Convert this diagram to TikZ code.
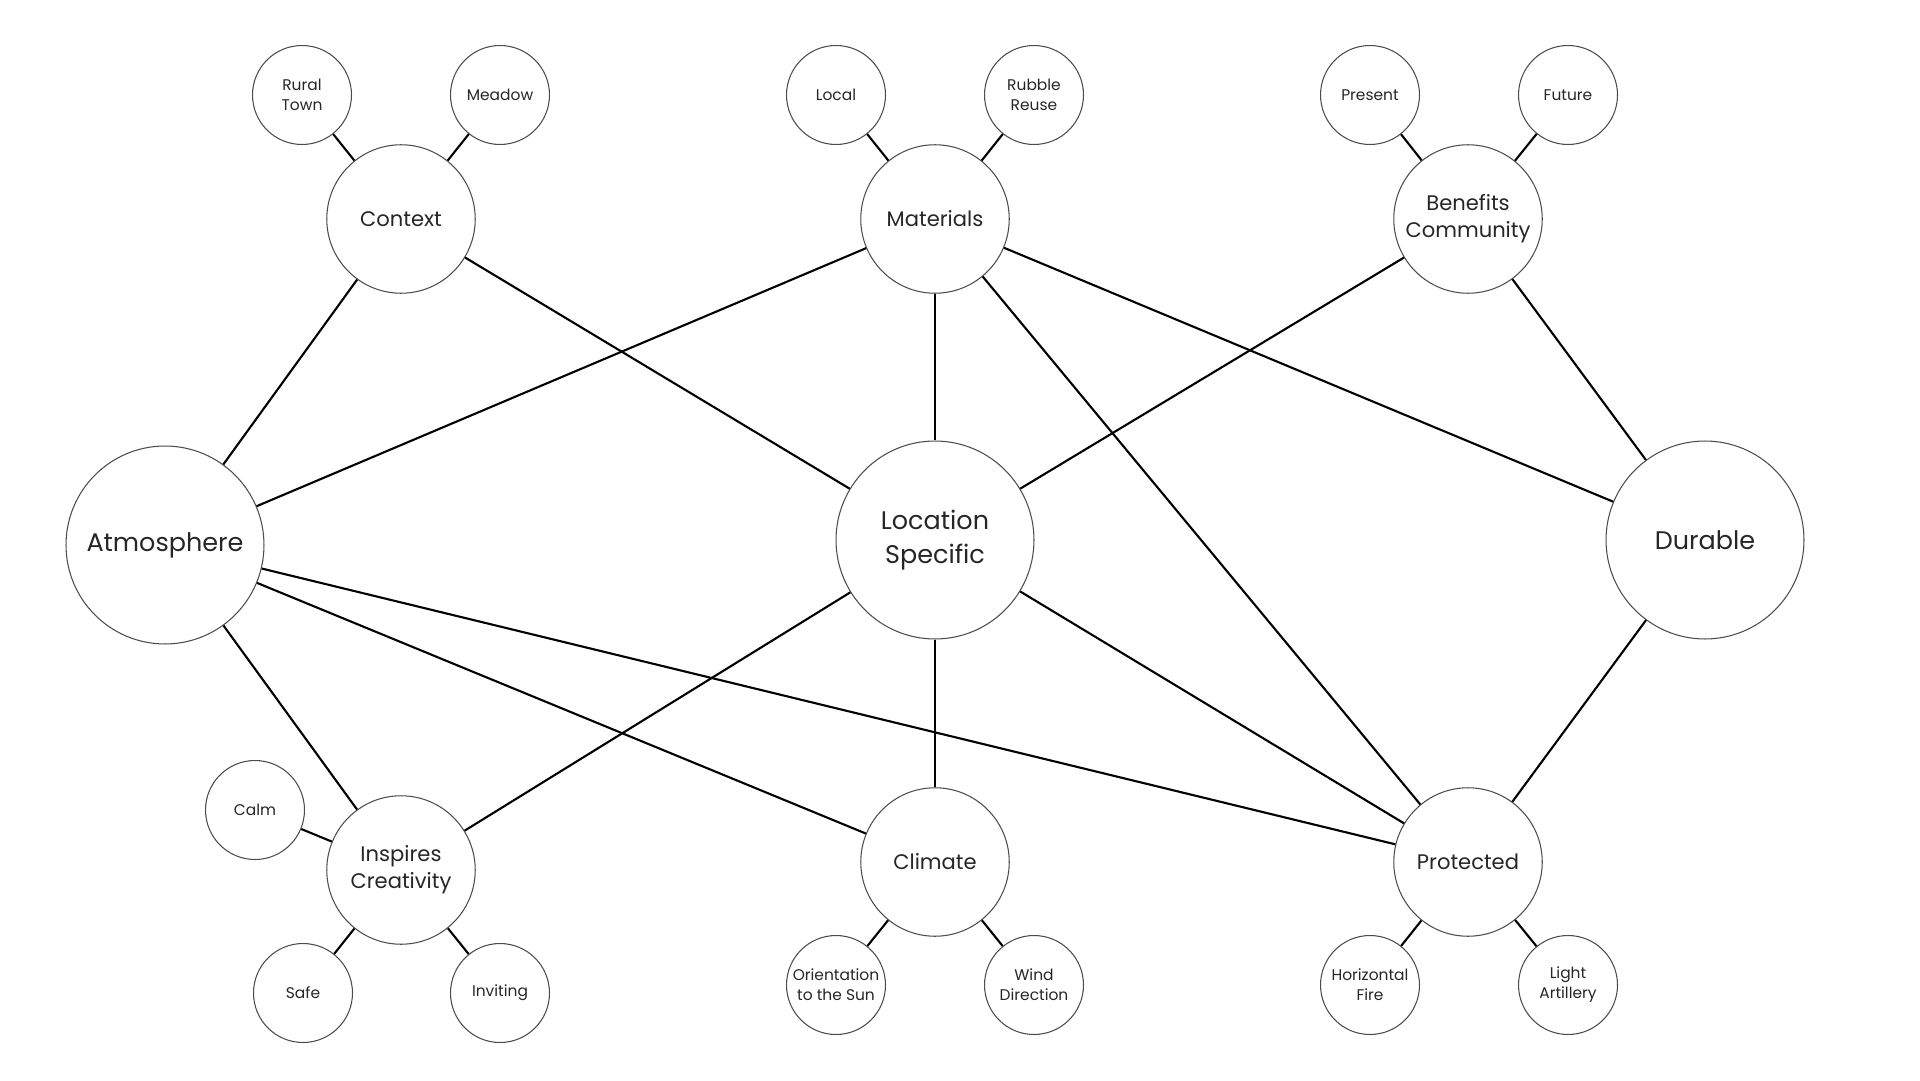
\documentclass[tikz,border=0pt]{standalone}
\usepackage{fontspec}
\setmainfont{Poppins}
\tikzset{
  bigc/.style={circle, draw=black!70, line width=0.6pt, minimum size=3.96cm, inner sep=0pt, align=center, text=black!85, font=\fontsize{14.5}{19}\selectfont},
  midc/.style={circle, draw=black!70, line width=0.6pt, minimum size=2.97cm, inner sep=0pt, align=center, text=black!85, font=\fontsize{12}{15.5}\selectfont},
  smallc/.style={circle, draw=black!70, line width=0.6pt, minimum size=1.98cm, inner sep=0pt, align=center, text=black!85, font=\fontsize{8.8}{11.4}\selectfont},
  link/.style={line width=1.2pt, black}
}
\begin{document}
\begin{tikzpicture}[x=0.02cm, y=-0.02cm]
  \useasboundingbox (0,0) rectangle (1920,1081);
  \node[bigc] (atmo) at (165,545) {Atmosphere};
  \node[bigc] (loc) at (935,540) {Location\\Specific};
  \node[bigc] (dur) at (1705,540) {Durable};
  \node[midc] (ctx) at (401,219) {Context};
  \node[midc] (mat) at (935,219) {Materials};
  \node[midc] (ben) at (1468,219) {Benefits\\Community};
  \node[midc] (insp) at (401,870) {Inspires\\Creativity};
  \node[midc] (clim) at (935,862) {Climate};
  \node[midc] (prot) at (1468,862) {Protected};
  \node[smallc] (rural) at (302,95) {Rural\\Town};
  \node[smallc] (meadow) at (500,95) {Meadow};
  \node[smallc] (local) at (836,95) {Local};
  \node[smallc] (rubble) at (1034,95) {Rubble\\Reuse};
  \node[smallc] (present) at (1370,95) {Present};
  \node[smallc] (future) at (1568,95) {Future};
  \node[smallc] (calm) at (255,810) {Calm};
  \node[smallc] (safe) at (303,993) {Safe};
  \node[smallc] (inviting) at (500,993) {Inviting};
  \node[smallc] (orient) at (836,985) {Orientation\\to the Sun};
  \node[smallc] (wind) at (1034,985) {Wind\\Direction};
  \node[smallc] (horiz) at (1370,985) {Horizontal\\Fire};
  \node[smallc] (light) at (1568,985) {Light\\Artillery};
  \draw[link] (atmo) -- (ctx);
  \draw[link] (atmo) -- (mat);
  \draw[link] (atmo) -- (insp);
  \draw[link] (atmo) -- (clim);
  \draw[link] (atmo) -- (prot);
  \draw[link] (loc) -- (ctx);
  \draw[link] (loc) -- (mat);
  \draw[link] (loc) -- (ben);
  \draw[link] (loc) -- (insp);
  \draw[link] (loc) -- (clim);
  \draw[link] (loc) -- (prot);
  \draw[link] (mat) -- (dur);
  \draw[link] (mat) -- (prot);
  \draw[link] (dur) -- (ben);
  \draw[link] (dur) -- (prot);
  \foreach \a/\b in {ctx/rural, ctx/meadow, mat/local, mat/rubble, ben/present, ben/future, insp/calm, insp/safe, insp/inviting, clim/orient, clim/wind, prot/horiz, prot/light}
    \draw[link] (\a) -- (\b);
\end{tikzpicture}
\end{document}
